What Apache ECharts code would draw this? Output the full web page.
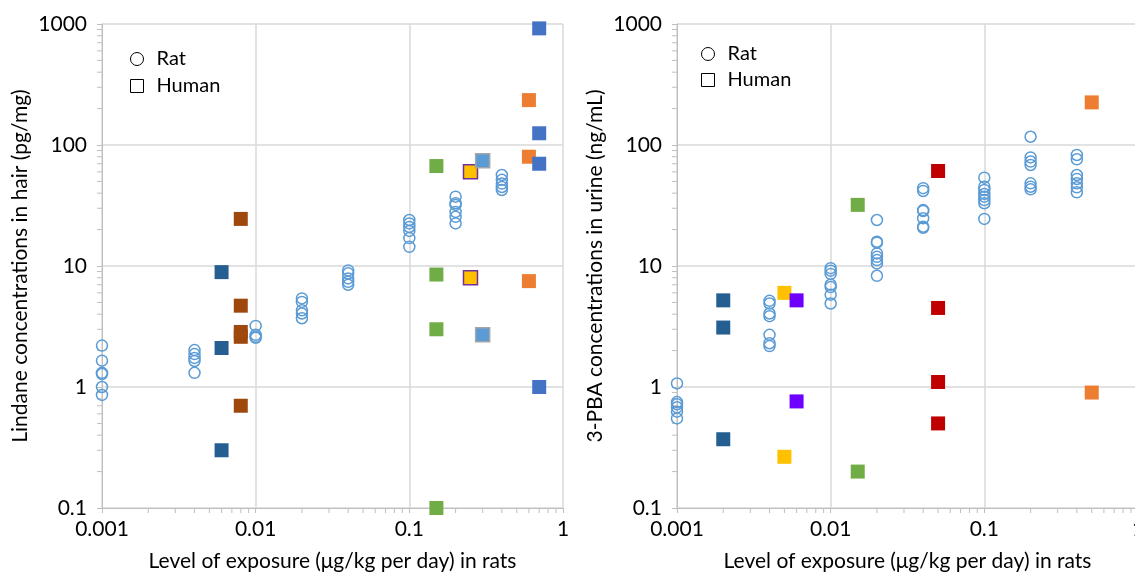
<!DOCTYPE html>
<html><head><meta charset="utf-8">
<script src="https://cdn.jsdelivr.net/npm/echarts@6/dist/echarts.min.js"></script>
<style>html,body{margin:0;padding:0;background:#fff}#c{width:1135px;height:573px}</style>
</head><body><div id="c"></div>
<script>
// ---------- DATA ----------
const exposureLevels = [0.001, 0.004, 0.01, 0.02, 0.04, 0.1, 0.2, 0.4];
const ratHair = [
  [2.2, 1.65, 1.31, 1.28, 1.0, 0.86],
  [2.02, 1.87, 1.74, 1.64, 1.31],
  [3.2, 2.7, 2.6, 2.55],
  [5.4, 5.05, 4.3, 4.05, 3.7],
  [9.2, 8.7, 7.9, 7.4, 7.0],
  [24, 22.5, 21, 19.5, 17, 14.4],
  [37.4, 33, 32, 28, 25.5, 22.5],
  [56.5, 51.5, 48, 45, 42.5]
];
const ratUrine = [
  [1.07, 0.75, 0.72, 0.68, 0.625, 0.55],
  [5.15, 4.9, 4.05, 3.85, 2.7, 2.3, 2.18],
  [9.6, 9.15, 8.6, 7.0, 6.7, 5.8, 4.9],
  [24, 15.9, 15.6, 12.7, 11.9, 11.2, 10.5, 8.3],
  [44, 41.7, 29, 28.5, 24.8, 21.1, 20.7],
  [53.7, 45.2, 42.5, 39.4, 37.4, 35.1, 33, 24.5],
  [117, 79, 73, 68.4, 48.2, 45.2, 43],
  [82.7, 76.2, 56.5, 52.4, 48.2, 44.7, 40.6]
];
const humanHairX = [0.006, 0.008, 0.15, 0.25, 0.3, 0.6, 0.7];
const humanHairY = [
  [8.9, 2.1, 0.3],
  [24.5, 4.7, 2.85, 2.6, 0.7],
  [67, 8.5, 3.0, 0.1],
  [60, 8.0],
  [74, 2.7],
  [235, 80, 7.5],
  [920, 125, 70, 1.0]
];
const humanUrineX = [0.002, 0.005, 0.006, 0.015, 0.05, 0.5];
const humanUrineY = [
  [5.2, 3.1, 0.37],
  [6.0, 0.265],
  [5.2, 0.76],
  [32, 0.2],
  [61, 4.5, 1.1, 0.5],
  [225, 0.9]
];
const xTickLabels = ['0.001', '0.01', '0.1', '1'];
const yTickLabels = ['0.1', '1', '10', '100', '1000'];
const xAxisTitle = 'Level of exposure (μg/kg per day) in rats';
const yTitleHair = 'Lindane concentrations in hair (pg/mg)';
const yTitleUrine = '3-PBA concentrations in urine (ng/mL)';

// ---------- STYLES ----------
const hairFill = ['#255E91', '#9E480E', '#70AD47', '#FFC000', '#5B9BD5', '#ED7D31', '#4472C4'];
const hairBorder = [null, null, null, '#7030A0', '#A5A5A5', null, null];
const urineFill = ['#255E91', '#FFC000', '#6E00FF', '#70AD47', '#C00000', '#ED7D31'];
const FONT = 'Lato';
const FS = 21;
const GRID_C = '#D9D9D9';
const AXIS_C = '#BFBFBF';

function ratPoints(ys) {
  const out = [];
  exposureLevels.forEach((x, i) => ys[i].forEach(y => out.push([x, y])));
  return out;
}
function humanPoints(xs, ys, fills, borders) {
  const out = [];
  xs.forEach((x, i) => ys[i].forEach(y => {
    const b = borders && borders[i];
    out.push({ value: [x, y], itemStyle: { color: fills[i], opacity: 1, borderColor: b || fills[i], borderWidth: b ? 1.5 : 0 } });
  }));
  return out;
}
// minor tick decorations (log-spaced)
const mult = [2, 3, 4, 5, 6, 7, 8, 9];
const xMinor = [], yMinor = [];
[0.001, 0.01, 0.1].forEach(d => mult.forEach(m => xMinor.push([d * m, 0.1])));
[0.1, 1, 10, 100].forEach(d => mult.forEach(m => yMinor.push([0.001, d * m])));

function xAxis(gi) {
  return {
    type: 'log', logBase: 10, min: 0.001, max: 1, gridIndex: gi,
    name: xAxisTitle, nameLocation: 'middle', nameGap: 43,
    nameTextStyle: { fontFamily: FONT, fontSize: FS, color: '#000' },
    axisLine: { lineStyle: { color: AXIS_C, width: 1 } },
    axisTick: { show: true, length: 5, lineStyle: { color: AXIS_C } },
    axisLabel: { fontFamily: FONT, fontSize: FS, color: '#000', margin: 11,
      formatter: v => xTickLabels[Math.round(Math.log10(v)) + 3] },
    splitLine: { show: true, lineStyle: { color: GRID_C, width: 1.5 } },
    minorTick: { show: false }
  };
}
function yAxis(gi, title) {
  return {
    type: 'log', logBase: 10, min: 0.1, max: 1000, gridIndex: gi,
    name: title, nameLocation: 'middle', nameGap: 71, nameRotate: 90,
    nameTextStyle: { fontFamily: FONT, fontSize: FS, color: '#000' },
    axisLine: { show: true, lineStyle: { color: AXIS_C, width: 1 } },
    axisTick: { show: true, length: 5, lineStyle: { color: AXIS_C } },
    axisLabel: { fontFamily: FONT, fontSize: FS, color: '#000', margin: 15,
      formatter: v => yTickLabels[Math.round(Math.log10(v)) + 1] },
    splitLine: { show: true, lineStyle: { color: GRID_C, width: 1.5 } }
  };
}
function tickSeries(gi, data, size, offset) {
  return {
    type: 'scatter', name: 'tick' + gi, xAxisIndex: gi, yAxisIndex: gi, data: data,
    symbol: 'rect', symbolSize: size, symbolOffset: offset, silent: true, clip: false,
    itemStyle: { color: AXIS_C, opacity: 1 }, z: 1
  };
}
function ratSeries(gi, ys) {
  return {
    type: 'scatter', name: 'Rat', xAxisIndex: gi, yAxisIndex: gi, data: ratPoints(ys),
    symbol: 'circle', symbolSize: 11, clip: false,
    itemStyle: { color: 'rgba(0,0,0,0)', borderColor: '#5B9BD5', borderWidth: 1.5, opacity: 1 }, z: 3
  };
}
function humanSeries(gi, xs, ys, fills, borders) {
  return {
    type: 'scatter', name: 'Human', xAxisIndex: gi, yAxisIndex: gi,
    data: humanPoints(xs, ys, fills, borders),
    symbol: 'rect', symbolSize: 14, clip: false,
    itemStyle: { color: '#888', opacity: 1 }, z: 4
  };
}
function legend(left, top, gap) {
  return {
    orient: 'vertical', left: left, top: top, padding: 0, itemGap: gap,
    itemWidth: 13, itemHeight: 13, selectedMode: false,
    textStyle: { fontFamily: FONT, fontSize: 20, color: '#000', padding: [0, 0, 0, 8] },
    data: [
      { name: 'Rat', icon: 'circle', itemStyle: { color: '#fff', borderColor: '#000', borderWidth: 1, opacity: 1 } },
      { name: 'Human', icon: 'rect', itemStyle: { color: '#fff', borderColor: '#000', borderWidth: 1, opacity: 1 } }
    ]
  };
}

const chart = echarts.init(document.getElementById('c'));
chart.setOption({
  animation: false,
  backgroundColor: '#fff',
  grid: [
    { left: 102, top: 24, width: 461, height: 484, outerBoundsMode: 'none' },
    { left: 677, top: 24, width: 461, height: 484, outerBoundsMode: 'none' }
  ],
  legend: [legend(130, 49, 7), legend(701, 44, 6)],
  xAxis: [xAxis(0), xAxis(1)],
  yAxis: [yAxis(0, yTitleHair), yAxis(1, yTitleUrine)],
  series: [
    tickSeries(0, xMinor, [1, 5], [0, 2.5]),
    tickSeries(0, yMinor, [5, 1], [-2.5, 0]),
    tickSeries(1, xMinor, [1, 5], [0, 2.5]),
    tickSeries(1, yMinor, [5, 1], [-2.5, 0]),
    ratSeries(0, ratHair),
    humanSeries(0, humanHairX, humanHairY, hairFill, hairBorder),
    ratSeries(1, ratUrine),
    humanSeries(1, humanUrineX, humanUrineY, urineFill, null)
  ]
});
</script></body></html>
